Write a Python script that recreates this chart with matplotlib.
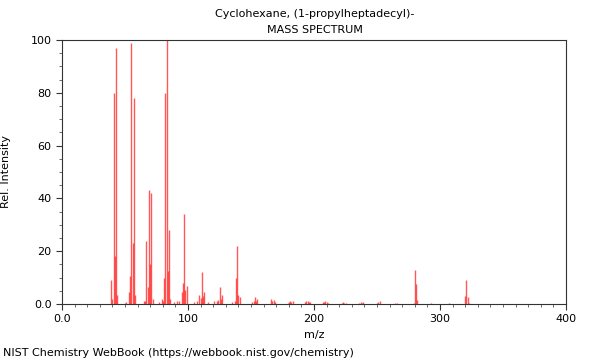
import matplotlib
matplotlib.use("Agg")
import matplotlib.pyplot as plt
from matplotlib.ticker import MultipleLocator, FixedLocator, FixedFormatter

title = "Cyclohexane, (1-propylheptadecyl)-"
mz = [39, 40, 41, 42, 43, 44,
      50, 51, 53, 54, 55, 56, 57, 58,
      65, 66, 67, 68, 69, 70, 71, 72,
      77, 79, 80, 81, 82, 83, 84, 85, 86,
      89, 91, 93, 95, 96, 97, 98, 99,
      105, 107, 109, 110, 111, 112, 113,
      116, 121, 123, 124, 125, 126, 127,
      135, 137, 138, 139, 140, 141,
      151, 152, 153, 154, 155,
      166, 167, 168, 169,
      179, 180, 181, 182, 183,
      193, 194, 195, 196, 197,
      207, 208, 209, 210, 211,
      222, 223, 224, 225,
      236, 237, 238, 239,
      250, 251, 252,
      264, 266,
      279, 280, 281, 282,
      293, 307,
      320, 321, 322, 323]
intensity = [9, 2, 80, 18, 97, 3.5,
             0.5, 0.8, 4.7, 10.6, 99, 23, 78, 3.4,
             1, 1, 24, 6.5, 43, 15, 42, 2,
             0.8, 2, 1, 10, 80, 100, 12.6, 28, 2,
             0.7, 1, 1, 4.7, 8, 34, 5.3, 7,
             0.6, 1, 3.4, 2.3, 12, 3, 4.7,
             0.8, 1, 1, 1.5, 6.6, 2, 3.4,
             0.8, 1, 10, 22, 3.4, 2.8,
             0.6, 1, 2.5, 1.2, 2,
             1.8, 1.2, 1.5, 0.8,
             0.5, 0.8, 1.2, 0.8, 1,
             0.8, 1, 1.2, 0.8, 0.6,
             0.6, 0.8, 1, 0.6, 0.5,
             0.5, 0.7, 0.5, 0.4,
             0.4, 0.6, 0.5, 0.7,
             0.4, 0.8, 1.1,
             0.3, 0.4,
             0.5, 13, 7.6, 1.5,
             0.3, 0.4,
             3, 9, 2.5, 0.5]
x_ticks = [0, 100, 200, 300, 400]
x_labels = ["0.0", "100", "200", "300", "400"]
y_ticks = [0, 20, 40, 60, 80, 100]
y_labels = ["0.0", "20", "40", "60", "80", "100"]

fig = plt.figure(figsize=(6, 3.6), dpi=100)
ax = fig.add_axes([62/600, 1-304/360, (566-62)/600, (304-40)/360])
ax.vlines(mz, 0, intensity, color="#ff2020", linewidth=1.0, alpha=0.75)
ax.set_xlim(0, 400)
ax.set_ylim(0, 100)
ax.xaxis.set_major_locator(FixedLocator(x_ticks))
ax.xaxis.set_major_formatter(FixedFormatter(x_labels))
ax.yaxis.set_major_locator(FixedLocator(y_ticks))
ax.yaxis.set_major_formatter(FixedFormatter(y_labels))
ax.xaxis.set_minor_locator(MultipleLocator(10))
ax.yaxis.set_minor_locator(MultipleLocator(5))
ax.tick_params(which="major", length=4, width=0.8, labelsize=8, color="#333333")
ax.tick_params(which="minor", length=2.5, width=0.6, color="#555555")
for s in ax.spines.values():
    s.set_color("#333333")
    s.set_linewidth(0.8)
ax.set_xlabel("m/z", fontsize=8)
ax.set_ylabel("Rel. Intensity", fontsize=8)
ax.yaxis.set_label_coords((11-62)/504, 0.5)
fig.text(315/600, 1-14/360, title, ha="center", va="center", fontsize=8)
fig.text(315/600, 1-30/360, "MASS SPECTRUM", ha="center", va="center", fontsize=8)
fig.text(3/600, 1-353/360, "NIST Chemistry WebBook (https://webbook.nist.gov/chemistry)",
         ha="left", va="center", fontsize=8)
fig.savefig("out.png", dpi=100)
